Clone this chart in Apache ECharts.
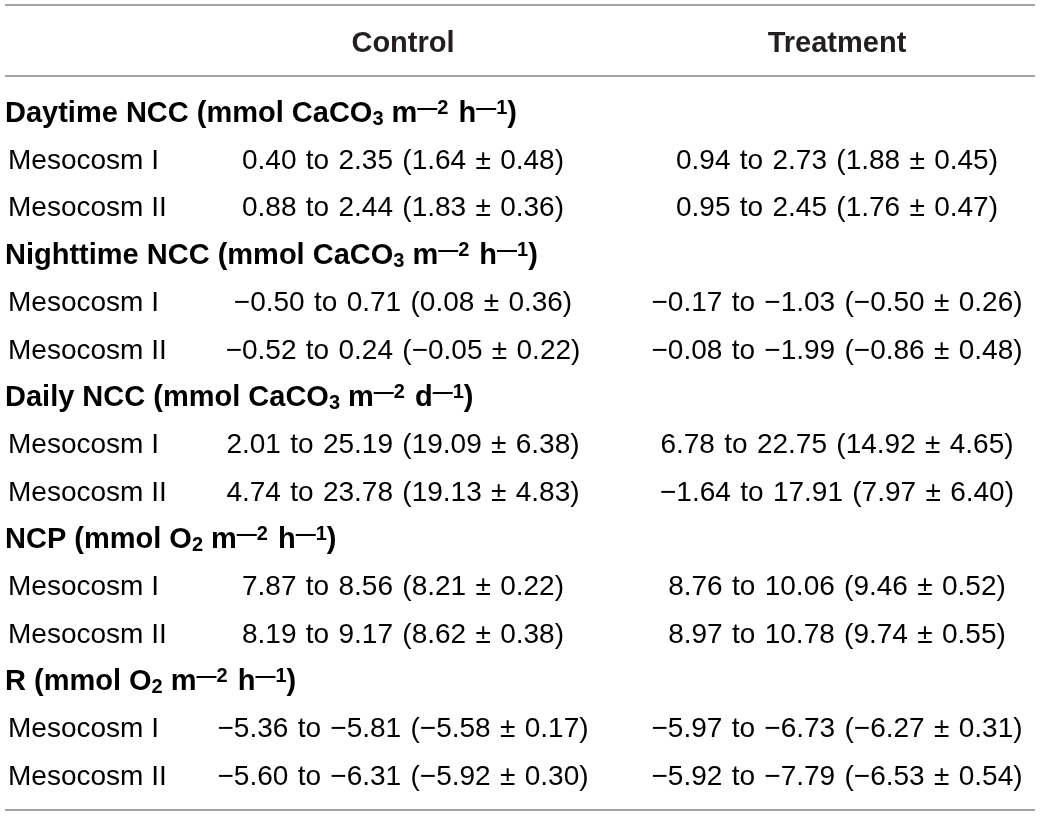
<!DOCTYPE html>
<html>
<head>
<meta charset="utf-8">
<script src="https://cdn.jsdelivr.net/npm/echarts@6/dist/echarts.min.js"></script>
<style>
  html, body { margin: 0; padding: 0; background: #fff; }
  #main { width: 1041px; height: 816px; }
</style>
</head>
<body>
<div id="main"></div>
<script>
// column headers
const columns = ['Control', 'Treatment'];

// table sections: name, unit species, its subscript, time unit
const sectionNames = ['Daytime NCC', 'Nighttime NCC', 'Daily NCC', 'NCP', 'R'];
const sectionSpecies = ['CaCO', 'CaCO', 'CaCO', 'O', 'O'];
const sectionSubs = ['3', '3', '3', '2', '2'];
const sectionTime = ['h', 'h', 'd', 'h', 'h'];
const subgroups = ['Mesocosm I', 'Mesocosm II'];

// values, two rows (Mesocosm I, II) per section
const controlMin  = [0.40, 0.88, -0.50, -0.52, 2.01, 4.74, 7.87, 8.19, -5.36, -5.60];
const controlMax  = [2.35, 2.44, 0.71, 0.24, 25.19, 23.78, 8.56, 9.17, -5.81, -6.31];
const controlMean = [1.64, 1.83, 0.08, -0.05, 19.09, 19.13, 8.21, 8.62, -5.58, -5.92];
const controlSd   = [0.48, 0.36, 0.36, 0.22, 6.38, 4.83, 0.22, 0.38, 0.17, 0.30];

const treatMin  = [0.94, 0.95, -0.17, -0.08, 6.78, -1.64, 8.76, 8.97, -5.97, -5.92];
const treatMax  = [2.73, 2.45, -1.03, -1.99, 22.75, 17.91, 10.06, 10.78, -6.73, -7.79];
const treatMean = [1.88, 1.76, -0.50, -0.86, 14.92, 7.97, 9.46, 9.74, -6.27, -6.53];
const treatSd   = [0.45, 0.47, 0.26, 0.48, 4.65, 6.40, 0.52, 0.55, 0.31, 0.54];

const W = 1041, H = 816;
const FONT = '"Liberation Sans", Arial, Helvetica, sans-serif';
const TEXT = '#231f20';
const RULE = '#a3a3a3';
const colX = { label: 8, section: 5, Control: 403, Treatment: 837 };
const SP = '\u2004'; // slightly wider space, the source typesetting is a bit looser

const fmt = v => v.toFixed(2).replace('-', '\u2212');
const cellText = (mn, mx, me, sd, i) =>
  fmt(mn[i]) + SP + 'to' + SP + fmt(mx[i]) + SP + '(' + fmt(me[i]) + SP + '\u00b1' + SP + fmt(sd[i]) + ')';

// build row list and cells
const rows = [];
const cells = [];
sectionNames.forEach((name, s) => {
  const r = rows.length;
  rows.push(name);
  cells.push({
    x: colX.section, row: r, align: 'left',
    text: '{b|' + name + ' (mmol ' + sectionSpecies[s] + '}{sub|' + sectionSubs[s] +
      '}{b| m}{supgap|\u2014' + '2}{b|' + sectionTime[s] + '}{sup|\u2014' + '1}{b|)}'
  });
  subgroups.forEach((g, k) => {
    const i = s * 2 + k;
    const rr = rows.length;
    rows.push(name + ' ' + g);
    cells.push({ x: colX.label, row: rr, align: 'left', text: '{n|' + g + '}' });
    cells.push({ x: colX.Control, row: rr, align: 'center',
      text: '{n|' + cellText(controlMin, controlMax, controlMean, controlSd, i) + '}' });
    cells.push({ x: colX.Treatment, row: rr, align: 'center',
      text: '{n|' + cellText(treatMin, treatMax, treatMean, treatSd, i) + '}' });
  });
});

const rich = {
  n: { fontSize: 28, fontFamily: FONT, color: TEXT, lineHeight: 34 },
  b: { fontSize: 29, fontFamily: FONT, fontWeight: 'bold', color: TEXT, lineHeight: 31 },
  sup: { fontSize: 20, fontFamily: FONT, fontWeight: 'bold', color: TEXT, lineHeight: 19, verticalAlign: 'top' },
  supgap: { fontSize: 20, fontFamily: FONT, fontWeight: 'bold', color: TEXT, lineHeight: 19, verticalAlign: 'top', padding: [0, 10, 0, 0] },
  sub: { fontSize: 20, fontFamily: FONT, fontWeight: 'bold', color: TEXT, lineHeight: 13, verticalAlign: 'bottom' }
};

const shift = 2; // cap-centre vs em-box middle
const pitch = (775 - 112) / (rows.length - 1);
const chart = echarts.init(document.getElementById('main'), null, { renderer: 'canvas' });

chart.setOption({
  backgroundColor: '#fff',
  animation: false,
  grid: { left: 0, right: 0, top: 112 + shift - pitch / 2, bottom: H - 775 - shift - pitch / 2 },
  xAxis: { type: 'value', min: 0, max: W, show: false },
  yAxis: { type: 'category', data: rows, inverse: true, show: false },
  graphic: [
    { type: 'line', shape: { x1: 5, y1: 5, x2: 1035, y2: 5 }, style: { stroke: RULE, lineWidth: 2 } },
    { type: 'line', shape: { x1: 5, y1: 76, x2: 1035, y2: 76 }, style: { stroke: RULE, lineWidth: 2 } },
    { type: 'line', shape: { x1: 5, y1: 810, x2: 1035, y2: 810 }, style: { stroke: RULE, lineWidth: 2 } },
    ...columns.map(c => ({
      type: 'text', x: colX[c], y: 42 + shift,
      style: { text: c, font: 'bold 29px ' + FONT, fill: TEXT, align: 'center', verticalAlign: 'middle' }
    }))
  ],
  series: [{
    type: 'custom',
    coordinateSystem: 'cartesian2d',
    data: cells.map(c => [c.x, c.row]),
    renderItem: (params, api) => {
      const c = cells[params.dataIndex];
      const p = api.coord([api.value(0), api.value(1)]);
      return {
        type: 'text',
        x: p[0], y: p[1],
        style: { text: c.text, rich: rich, align: c.align, verticalAlign: 'middle' }
      };
    }
  }]
});
</script>
</body>
</html>
